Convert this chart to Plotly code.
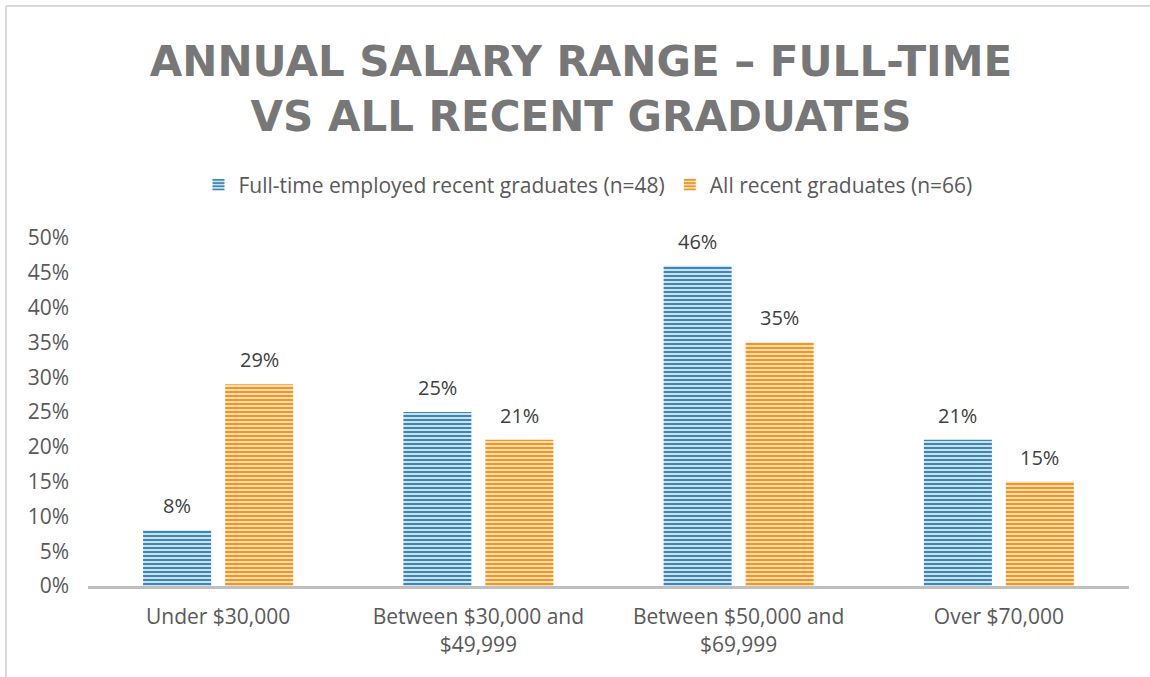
import plotly.graph_objects as go

categories = ["Under $30,000", "Between $30,000 and<br>$49,999",
              "Between $50,000 and<br>$69,999", "Over $70,000"]
full_time = [8, 25, 46, 21]
all_grads = [29, 21, 35, 15]
tick_vals = [0, 5, 10, 15, 20, 25, 30, 35, 40, 45, 50]
tick_text = [str(v) + "%" for v in tick_vals]

FONT = "Open Sans"
GREY = "#595959"
W, H = 1150, 677
ML, MR, MT, MB = 88, 21, 238, 91
BARGAP, GROUPGAP = 0.37, 0.17

fig = go.Figure()
fig.add_trace(go.Bar(
    x=categories, y=full_time,
    name="Full-time employed recent graduates (n=48)",
    marker=dict(color="#cde2f0", line=dict(width=0),
                pattern=dict(shape="-", fgcolor="#3a86bd", bgcolor="#cde2f0",
                             fgopacity=1, size=4, solidity=0.5)),
))
fig.add_trace(go.Bar(
    x=categories, y=all_grads,
    name="All recent graduates (n=66)",
    marker=dict(color="#fde0b8", line=dict(width=0),
                pattern=dict(shape="-", fgcolor="#f7931e", bgcolor="#fde0b8",
                             fgopacity=1, size=4, solidity=0.5)),
))

# data labels above each bar, shifted to the bar's slot within the group
pw, ph = W - ML - MR, H - MT - MB
slot = pw / len(categories) * (1 - BARGAP) / 2
for vals, dx in ((full_time, -slot / 2), (all_grads, slot / 2)):
    for cat, v in zip(categories, vals):
        fig.add_annotation(x=cat, y=v, text=str(v) + "%", showarrow=False,
                           xshift=dx, yshift=9, yanchor="bottom",
                           font=dict(size=20, color="#404040", family=FONT))

fig.update_layout(
    width=W, height=H,
    paper_bgcolor="white", plot_bgcolor="white",
    font=dict(family=FONT, color=GREY, size=21),
    title=dict(text="ANNUAL SALARY RANGE – FULL-TIME<br>VS ALL RECENT GRADUATES",
               x=581 / W, xanchor="center", xref="container",
               yref="container", y=1 - 76 / H, yanchor="middle",
               font=dict(size=42, color="#777777", family="DejaVu Sans", weight="bold")),
    barmode="group", bargap=BARGAP, bargroupgap=GROUPGAP,
    margin=dict(l=ML, r=MR, t=MT, b=MB, autoexpand=False),
    legend=dict(orientation="h", x=588 / W, xanchor="center", xref="container",
                y=1 - 185 / H, yref="container", yanchor="middle",
                font=dict(size=21, color=GREY), traceorder="normal"),
    showlegend=True,
)
fig.update_xaxes(showline=True, linecolor="#bfbfbf", linewidth=3, showgrid=False,
                 ticks="", tickfont=dict(size=21, color=GREY), ticklabelstandoff=10)
fig.update_yaxes(range=[0, 50], tickvals=tick_vals, ticktext=tick_text,
                 showgrid=False, zeroline=False, showline=False,
                 tickfont=dict(size=21, color=GREY), ticklabelstandoff=18)

# outer chart frame (top and left edges visible)
fx = (6 - ML) / pw
fy = (H - MB - 6) / ph
fig.add_shape(type="line", xref="paper", yref="paper", x0=fx, x1=(W - ML) / pw,
              y0=fy, y1=fy, line=dict(color="#d9d9d9", width=2))
fig.add_shape(type="line", xref="paper", yref="paper", x0=fx, x1=fx,
              y0=fy, y1=-MB / ph, line=dict(color="#d9d9d9", width=2))

fig.write_html("out.html", config={"displayModeBar": False},
               post_script="document.body.style.margin='0px';")
